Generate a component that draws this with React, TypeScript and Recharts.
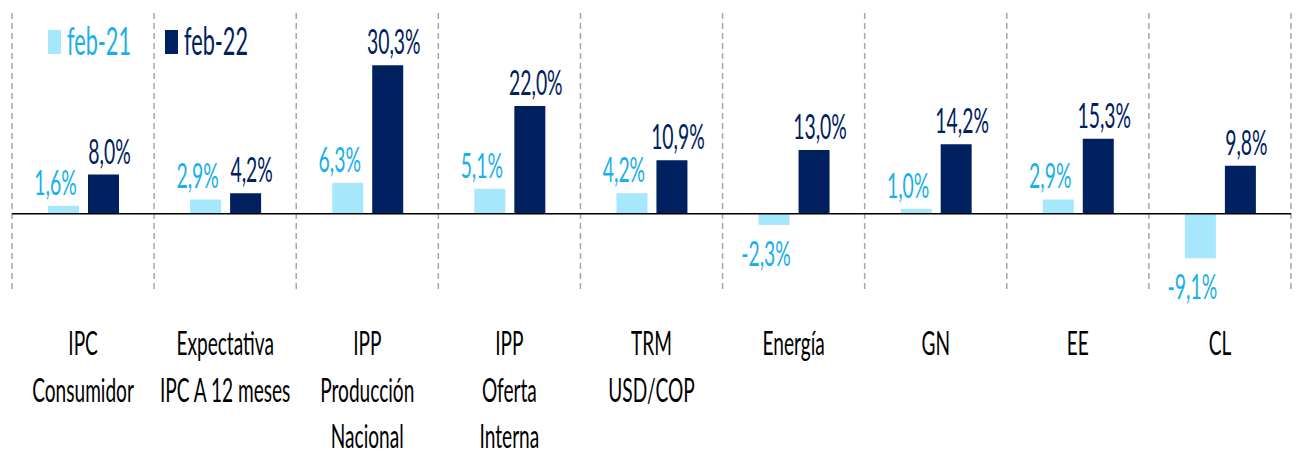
import React from 'react';
import {
  BarChart,
  Bar,
  XAxis,
  YAxis,
  CartesianGrid,
  ReferenceLine,
  LabelList,
  Legend
} from 'recharts';

const categories = [
  'IPC\nConsumidor',
  'Expectativa\nIPC A 12 meses',
  'IPP\nProducción\nNacional',
  'IPP\nOferta\nInterna',
  'TRM\nUSD/COP',
  'Energía',
  'GN',
  'EE',
  'CL'
];
const feb21 = [1.6, 2.9, 6.3, 5.1, 4.2, -2.3, 1.0, 2.9, -9.1];
const feb22 = [8.0, 4.2, 30.3, 22.0, 10.9, 13.0, 14.2, 15.3, 9.8];
const seriesNames = ['feb-21', 'feb-22'];

const data = categories.map((name, i) => ({ name, feb21: feb21[i], feb22: feb22[i] }));

const LIGHT = '#A6E7FB';
const LIGHT_TEXT = '#18B0EC';
const DARK = '#002060';
const FONT = 'Lato, "Open Sans", sans-serif';
const SX = 0.57; // the original text is drawn narrow

const fmt = (v: number) => v.toFixed(1).replace('.', ',') + '%';

const CategoryTick = (props: any) => {
  const { x, y, payload } = props;
  const lines = String(payload.value).split('\n');
  return (
    <g>
      {lines.map((line, i) => (
        <text
          key={i}
          transform={`translate(${x},${y + 63 + i * 46.5}) scale(${SX},1)`}
          textAnchor="middle"
          fill="#000"
          fontSize={33.5}
          fontFamily={FONT}
        >
          {line}
        </text>
      ))}
    </g>
  );
};

const makeLabel = (color: string, dx: number) => (props: any) => {
  const { x, y, width, height, value } = props;
  const top = Math.min(y, y + height);
  const bottom = Math.max(y, y + height);
  const cx = x + width / 2 + dx;
  const ty = value >= 0 ? top - 11 : bottom + 41;
  return (
    <text
      transform={`translate(${cx},${ty}) scale(${SX},1)`}
      textAnchor="middle"
      fill={color}
      fontSize={34}
      fontFamily={FONT}
    >
      {fmt(value)}
    </text>
  );
};

const legendColors = [[LIGHT, LIGHT_TEXT], [DARK, DARK]];

const renderLegend = () => (
  <div style={{ position: 'relative', width: 320, height: 70 }}>
    {seriesNames.map((s, i) => (
      <div key={s} style={{ position: 'absolute', left: 48 + i * 117, top: 0 }}>
        <div
          style={{
            position: 'absolute',
            left: 0,
            top: 30,
            width: 13,
            height: 24,
            background: legendColors[i][0]
          }}
        />
        <div
          style={{
            position: 'absolute',
            left: 19,
            top: 21,
            fontFamily: FONT,
            fontSize: 38,
            lineHeight: '38px',
            color: legendColors[i][1],
            whiteSpace: 'nowrap',
            transform: `scaleX(${SX})`,
            transformOrigin: 'left top'
          }}
        >
          {s}
        </div>
      </div>
    ))}
  </div>
);

export default function App() {
  return (
    <div style={{ position: 'absolute', left: 0, top: 0, background: '#fff' }}>
      <BarChart
        width={1297}
        height={455}
        data={data}
        margin={{ top: 13, right: 6, left: 12, bottom: 0 }}
        barSize={31}
        barGap={9}
      >
        <CartesianGrid
          horizontal={false}
          stroke="#A6A6A6"
          strokeWidth={1.5}
          strokeDasharray="6 4"
          verticalCoordinatesGenerator={({ offset }: any) =>
            Array.from(
              { length: categories.length + 1 },
              (_, i) => offset.left + (i * offset.width) / categories.length
            )
          }
        />
        <XAxis
          dataKey="name"
          height={163}
          axisLine={false}
          tickLine={false}
          tickSize={0}
          tickMargin={0}
          interval={0}
          tick={<CategoryTick />}
        />
        <YAxis hide domain={[-16, 41]} />
        <Legend
          layout="horizontal"
          verticalAlign="middle"
          align="center"
          wrapperStyle={{ top: 0, left: 0 }}
          content={renderLegend}
        />
        <Bar dataKey="feb21" name={seriesNames[0]} fill={LIGHT} isAnimationActive={false}>
          <LabelList dataKey="feb21" content={makeLabel(LIGHT_TEXT, -8)} />
        </Bar>
        <Bar dataKey="feb22" name={seriesNames[1]} fill={DARK} isAnimationActive={false}>
          <LabelList dataKey="feb22" content={makeLabel(DARK, 6)} />
        </Bar>
        <ReferenceLine y={0} stroke="#000" strokeWidth={1.5} />
      </BarChart>
    </div>
  );
}
